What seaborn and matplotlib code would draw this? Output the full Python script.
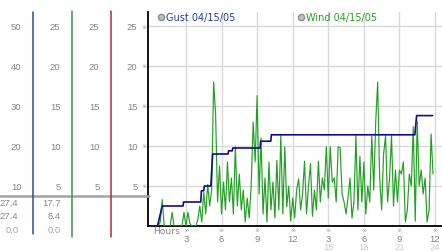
import numpy as np
import matplotlib
matplotlib.use("Agg")
import matplotlib.pyplot as plt
import seaborn as sns
from matplotlib.lines import Line2D

# ---- data ----
# wind speed, one reading every 10 minutes from 0:00
wind = [0, 0, 0, 0, 0, 0.5, 3.3, 0, 0, 0, 0, 1.7, 0, 0, 0, 0, 0, 1.7, 0, 1.7,
        0.3, 0, 0, 0, 0.8, 2.5, 0.5, 4.2, 1.5, 5.2, 2.5, 4.5, 18.0, 14.0, 3.0, 7.5,
        1.5, 5.5, 2.0, 8.0, 3.0, 6.0, 1.5, 9.9, 2.5, 6.5, 2.0, 4.5, 0.5, 3.5, 1.0,
        5.0, 13.0, 8.0, 16.3, 4.0, 11.0, 1.5, 6.0, 0.5, 8.0, 2.0, 5.5, 1.0, 8.2,
        2.0, 11.3, 1.5, 9.9, 2.4, 5.0, 0.6, 3.5, 1.0, 4.5, 5.9, 2.0, 4.0, 8.1, 1.5,
        5.0, 7.8, 1.2, 4.5, 2.0, 8.1, 3.0, 6.0, 4.5, 9.9, 3.5, 9.9, 5.5, 6.0, 3.0,
        9.9, 9.8, 4.0, 3.0, 1.5, 3.6, 6.0, 1.0, 3.0, 11.3, 2.0, 8.7, 3.0, 8.0, 1.5,
        5.0, 3.0, 11.3, 4.5, 13.0, 18.0, 6.0, 2.0, 9.0, 11.3, 3.0, 6.0, 11.3, 2.5,
        7.0, 3.0, 7.0, 6.5, 8.0, 0.5, 2.0, 6.5, 5.0, 12.4, 0.6, 13.1, 5.0, 7.0,
        4.0, 6.0, 0.5, 2.0, 11.5, 6.5]
wind_hours = np.arange(len(wind)) / 6.0

# gust (running peak) corners
gust_hours = [0, 0.6, 1.0, 2.75, 2.8, 4.25, 4.3, 4.5, 4.55, 5.1, 5.25, 6.55, 6.6,
              6.9, 6.95, 9.25, 9.3, 10.15, 10.2, 22.3, 22.45, 23.8]
gust_values = [0, 0, 2.5, 2.5, 3.0, 3.0, 4.4, 4.4, 5.0, 5.0, 9.0, 9.0, 9.4,
               9.4, 9.75, 9.75, 10.6, 10.6, 11.4, 11.4, 13.8, 13.8]

x_ticks = [3, 6, 9, 12, 15, 18, 21, 24]
x_labels = ["3", "6", "9", "12", "3", "6", "9", "12"]
x_ticks2 = [15, 18, 21, 24]
x_labels2 = ["15", "18", "21", "24"]
y_ticks = [5, 10, 15, 20, 25]
col1_labels = ["10", "20", "30", "40", "50"]
col_labels = ["5", "10", "15", "20", "25"]
gust_stats = ["27.4", "27.4", "0.0"]
wind_stats = ["17.7", "6.4", "0.0"]
stat_levels = [2.875, 1.25, -0.5]
legend_labels = ["Gust 04/15/05", "Wind 04/15/05"]

# ---- styling ----
sns.set_theme(style="white")
plt.rcParams["font.family"] = ["DejaVu Sans"]
FS = 7
NF = dict(family="Liberation Sans", fontsize=6.8)
GRAY = "#858585"

W, H = 442, 253
fig = plt.figure(figsize=(W / 100, H / 100), dpi=100)
fig.patch.set_facecolor("white")

# main chart
ax = fig.add_axes([148 / W, (H - 227) / H, (W - 148) / W, (227 - 13) / H])
ax.set_facecolor("white")
ax.set_xlim(-0.2, 24.59)
ax.set_ylim(0, 26.75)

sns.lineplot(x=wind_hours, y=wind, ax=ax, color="#22a022", lw=0.85,
             estimator=None, sort=False, zorder=3)
sns.lineplot(x=gust_hours, y=gust_values, ax=ax, color="#0c0c8c", lw=1.2,
             estimator=None, sort=False, zorder=4)

ax.set_xticks(x_ticks)
ax.set_xticklabels(x_labels, **NF)
ax.set_yticks(y_ticks)
ax.set_yticklabels([])
ax.tick_params(axis="both", length=0)
ax.tick_params(axis="x", pad=6, labelcolor=GRAY)
ax.grid(True, color="#d9d9d9", lw=1.0, zorder=0)
ax.set_axisbelow(True)
for s in ["top", "right"]:
    ax.spines[s].set_visible(False)
for s in ["left", "bottom"]:
    ax.spines[s].set_color("black")
    ax.spines[s].set_linewidth(1.3)
ax.set_xlabel("")
ax.set_ylabel("")

for h in x_ticks:
    ax.text(h, -0.4, "※", ha="center", va="center", fontsize=4.5,
            color="#a0a0a0", clip_on=False)
for h, lab in zip(x_ticks2, x_labels2):
    ax.text(h, -2.55, lab, ha="center", va="center", color="#cccccc",
            clip_on=False, **NF)
ax.text(0.25, -0.6, "Hours", ha="left", va="center", fontsize=6.6,
        color=GRAY, clip_on=False)

handles = [Line2D([], [], marker="o", ls="", color="#bdbdbd", mec="#909090",
                  ms=4.5) for _ in legend_labels]
leg = ax.legend(handles, legend_labels, loc="upper left",
                bbox_to_anchor=((157.8 - 148) / 294, 1.0), ncol=2,
                frameon=False, borderpad=0, borderaxespad=0,
                handlelength=0.6, handletextpad=0.2, columnspacing=6.5,
                fontsize=FS)
leg.get_texts()[0].set_color("#2040a8")
leg.get_texts()[1].set_color("#20a020")

# left scale columns
axl = fig.add_axes([0, 0, 148 / W, 1])
axl.set_xlim(0, 148)
axl.set_ylim((227 - 253) / 8, 227 / 8)
axl.axis("off")
axl.patch.set_alpha(0)

axl.plot([0, 149], [3.75, 3.75], color="#a3a3a3", lw=1.8, zorder=1,
         clip_on=False)
axl.plot([33.3, 33.3], [26.8, -1.0], color="#2a4fa0", lw=1.1, zorder=2)
axl.plot([72.3, 72.3], [26.9, -1.4], color="#3a9a3a", lw=1.1, zorder=2)
axl.plot([111, 111], [26.9, -1.4], color="#a83030", lw=1.1, zorder=2)

for v, lab in zip(y_ticks, col1_labels):
    axl.text(21.5, v, lab, ha="right", va="center", color=GRAY, **NF)
for xr in [60.5, 99.5, 137.5]:
    for v, lab in zip(y_ticks, col_labels):
        axl.text(xr, v, lab, ha="right", va="center", color=GRAY, **NF)
for v in y_ticks:
    axl.text(144.5, v, "※", ha="center", va="center", fontsize=4.5,
             color="#a0a0a0")
for lev, g, w in zip(stat_levels, gust_stats, wind_stats):
    c = "#a5a5a5" if g == "0.0" else GRAY
    axl.text(18.5, lev, g, ha="right", va="center", color=c, **NF)
    c = "#a5a5a5" if w == "0.0" else GRAY
    axl.text(60.5, lev, w, ha="right", va="center", color=c, **NF)

fig.savefig("out.png", dpi=100, facecolor="white")
